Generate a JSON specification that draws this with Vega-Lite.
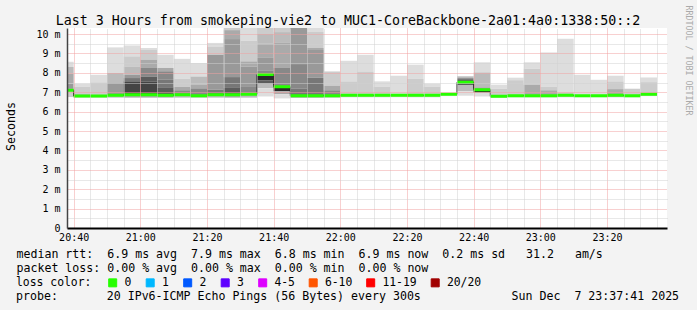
{
  "$schema": "https://vega.github.io/schema/vega-lite/v6.json",
  "width": 600,
  "height": 200,
  "autosize": "none",
  "padding": {"left": 67, "top": 28, "right": 30, "bottom": 82},
  "background": "#f3f3f3",
  "config": {"view": {"fill": "#ffffff", "stroke": null}, "font": "DejaVu Sans Mono"},
  "title": {
    "text": "probe:\u00a0\u00a0\u00a0\u00a0\u00a0\u00a0\u00a020 IPv6-ICMP Echo Pings (56 Bytes) every 300s\u00a0\u00a0\u00a0\u00a0\u00a0\u00a0\u00a0\u00a0\u00a0\u00a0\u00a0\u00a0\u00a0Sun Dec\u00a0\u00a07 23:37:41 2025",
    "orient": "bottom",
    "anchor": "start",
    "frame": "group",
    "dx": -51,
    "offset": 2,
    "baseline": "top",
    "font": "DejaVu Sans Mono",
    "fontSize": 11.6,
    "fontWeight": "normal",
    "color": "#000000"
  },
  "datasets": {
    "smoke": [
      {"s":"2025-12-07T20:35:00Z","e":"2025-12-07T20:40:00Z","lo":8.30,"hi":8.57,"k":1},{"s":"2025-12-07T20:35:00Z","e":"2025-12-07T20:40:00Z","lo":7.95,"hi":8.30,"k":3},{"s":"2025-12-07T20:35:00Z","e":"2025-12-07T20:40:00Z","lo":7.45,"hi":7.95,"k":4},{"s":"2025-12-07T20:35:00Z","e":"2025-12-07T20:40:00Z","lo":7.18,"hi":7.45,"k":5},{"s":"2025-12-07T20:35:00Z","e":"2025-12-07T20:40:00Z","lo":7.10,"hi":7.18,"k":7},{"s":"2025-12-07T20:35:00Z","e":"2025-12-07T20:40:00Z","lo":6.75,"hi":7.10,"k":2},
      {"s":"2025-12-07T20:40:00Z","e":"2025-12-07T20:45:00Z","lo":7.27,"hi":7.44,"k":1},{"s":"2025-12-07T20:40:00Z","e":"2025-12-07T20:45:00Z","lo":6.88,"hi":7.27,"k":2},{"s":"2025-12-07T20:40:00Z","e":"2025-12-07T20:45:00Z","lo":6.80,"hi":6.88,"k":6},{"s":"2025-12-07T20:40:00Z","e":"2025-12-07T20:45:00Z","lo":6.72,"hi":6.80,"k":2},
      {"s":"2025-12-07T20:45:00Z","e":"2025-12-07T20:50:00Z","lo":7.51,"hi":7.90,"k":1},{"s":"2025-12-07T20:45:00Z","e":"2025-12-07T20:50:00Z","lo":6.72,"hi":7.51,"k":2},
      {"s":"2025-12-07T20:50:00Z","e":"2025-12-07T20:55:00Z","lo":7.99,"hi":9.31,"k":1},{"s":"2025-12-07T20:50:00Z","e":"2025-12-07T20:55:00Z","lo":7.47,"hi":7.99,"k":3},{"s":"2025-12-07T20:50:00Z","e":"2025-12-07T20:55:00Z","lo":6.84,"hi":7.47,"k":5},{"s":"2025-12-07T20:50:00Z","e":"2025-12-07T20:55:00Z","lo":6.72,"hi":6.84,"k":3},
      {"s":"2025-12-07T20:55:00Z","e":"2025-12-07T21:00:00Z","lo":8.85,"hi":9.41,"k":1},{"s":"2025-12-07T20:55:00Z","e":"2025-12-07T21:00:00Z","lo":8.33,"hi":8.85,"k":2},{"s":"2025-12-07T20:55:00Z","e":"2025-12-07T21:00:00Z","lo":7.90,"hi":8.33,"k":3},{"s":"2025-12-07T20:55:00Z","e":"2025-12-07T21:00:00Z","lo":7.73,"hi":7.90,"k":5},{"s":"2025-12-07T20:55:00Z","e":"2025-12-07T21:00:00Z","lo":7.56,"hi":7.73,"k":7},{"s":"2025-12-07T20:55:00Z","e":"2025-12-07T21:00:00Z","lo":6.87,"hi":7.56,"k":9},{"s":"2025-12-07T20:55:00Z","e":"2025-12-07T21:00:00Z","lo":6.72,"hi":6.87,"k":4},
      {"s":"2025-12-07T21:00:00Z","e":"2025-12-07T21:05:00Z","lo":9.18,"hi":9.28,"k":1},{"s":"2025-12-07T21:00:00Z","e":"2025-12-07T21:05:00Z","lo":8.68,"hi":9.18,"k":2},{"s":"2025-12-07T21:00:00Z","e":"2025-12-07T21:05:00Z","lo":8.25,"hi":8.68,"k":4},{"s":"2025-12-07T21:00:00Z","e":"2025-12-07T21:05:00Z","lo":7.81,"hi":8.25,"k":6},{"s":"2025-12-07T21:00:00Z","e":"2025-12-07T21:05:00Z","lo":7.56,"hi":7.81,"k":8},{"s":"2025-12-07T21:00:00Z","e":"2025-12-07T21:05:00Z","lo":6.87,"hi":7.56,"k":9},{"s":"2025-12-07T21:00:00Z","e":"2025-12-07T21:05:00Z","lo":6.72,"hi":6.87,"k":4},
      {"s":"2025-12-07T21:05:00Z","e":"2025-12-07T21:10:00Z","lo":8.25,"hi":8.93,"k":1},{"s":"2025-12-07T21:05:00Z","e":"2025-12-07T21:10:00Z","lo":8.08,"hi":8.25,"k":4},{"s":"2025-12-07T21:05:00Z","e":"2025-12-07T21:10:00Z","lo":7.64,"hi":8.08,"k":6},{"s":"2025-12-07T21:05:00Z","e":"2025-12-07T21:10:00Z","lo":7.22,"hi":7.64,"k":7},{"s":"2025-12-07T21:05:00Z","e":"2025-12-07T21:10:00Z","lo":6.84,"hi":7.22,"k":8},{"s":"2025-12-07T21:05:00Z","e":"2025-12-07T21:10:00Z","lo":6.72,"hi":6.84,"k":4},
      {"s":"2025-12-07T21:10:00Z","e":"2025-12-07T21:15:00Z","lo":7.70,"hi":8.72,"k":1},{"s":"2025-12-07T21:10:00Z","e":"2025-12-07T21:15:00Z","lo":7.27,"hi":7.70,"k":2},{"s":"2025-12-07T21:10:00Z","e":"2025-12-07T21:15:00Z","lo":7.10,"hi":7.27,"k":4},{"s":"2025-12-07T21:10:00Z","e":"2025-12-07T21:15:00Z","lo":6.87,"hi":7.10,"k":6},{"s":"2025-12-07T21:10:00Z","e":"2025-12-07T21:15:00Z","lo":6.72,"hi":6.87,"k":3},
      {"s":"2025-12-07T21:15:00Z","e":"2025-12-07T21:20:00Z","lo":7.81,"hi":8.50,"k":1},{"s":"2025-12-07T21:15:00Z","e":"2025-12-07T21:20:00Z","lo":7.38,"hi":7.81,"k":3},{"s":"2025-12-07T21:15:00Z","e":"2025-12-07T21:20:00Z","lo":7.20,"hi":7.38,"k":4},{"s":"2025-12-07T21:15:00Z","e":"2025-12-07T21:20:00Z","lo":6.82,"hi":7.20,"k":6},{"s":"2025-12-07T21:15:00Z","e":"2025-12-07T21:20:00Z","lo":6.72,"hi":6.82,"k":3},
      {"s":"2025-12-07T21:20:00Z","e":"2025-12-07T21:25:00Z","lo":9.36,"hi":9.54,"k":1},{"s":"2025-12-07T21:20:00Z","e":"2025-12-07T21:25:00Z","lo":8.93,"hi":9.36,"k":2},{"s":"2025-12-07T21:20:00Z","e":"2025-12-07T21:25:00Z","lo":7.13,"hi":8.93,"k":5},{"s":"2025-12-07T21:20:00Z","e":"2025-12-07T21:25:00Z","lo":6.87,"hi":7.13,"k":7},{"s":"2025-12-07T21:20:00Z","e":"2025-12-07T21:25:00Z","lo":6.72,"hi":6.87,"k":3},
      {"s":"2025-12-07T21:25:00Z","e":"2025-12-07T21:30:00Z","lo":10.20,"hi":10.34,"k":2},{"s":"2025-12-07T21:25:00Z","e":"2025-12-07T21:30:00Z","lo":9.74,"hi":10.20,"k":4},{"s":"2025-12-07T21:25:00Z","e":"2025-12-07T21:30:00Z","lo":7.78,"hi":9.74,"k":5},{"s":"2025-12-07T21:25:00Z","e":"2025-12-07T21:30:00Z","lo":7.22,"hi":7.78,"k":7},{"s":"2025-12-07T21:25:00Z","e":"2025-12-07T21:30:00Z","lo":6.87,"hi":7.22,"k":8},{"s":"2025-12-07T21:25:00Z","e":"2025-12-07T21:30:00Z","lo":6.72,"hi":6.87,"k":4},
      {"s":"2025-12-07T21:30:00Z","e":"2025-12-07T21:35:00Z","lo":9.65,"hi":10.34,"k":1},{"s":"2025-12-07T21:30:00Z","e":"2025-12-07T21:35:00Z","lo":8.59,"hi":9.65,"k":2},{"s":"2025-12-07T21:30:00Z","e":"2025-12-07T21:35:00Z","lo":8.33,"hi":8.59,"k":4},{"s":"2025-12-07T21:30:00Z","e":"2025-12-07T21:35:00Z","lo":7.27,"hi":8.33,"k":5},{"s":"2025-12-07T21:30:00Z","e":"2025-12-07T21:35:00Z","lo":6.89,"hi":7.27,"k":6},{"s":"2025-12-07T21:30:00Z","e":"2025-12-07T21:35:00Z","lo":6.72,"hi":6.89,"k":3},
      {"s":"2025-12-07T21:35:00Z","e":"2025-12-07T21:40:00Z","lo":10.00,"hi":10.34,"k":2},{"s":"2025-12-07T21:35:00Z","e":"2025-12-07T21:40:00Z","lo":9.50,"hi":10.00,"k":3},{"s":"2025-12-07T21:35:00Z","e":"2025-12-07T21:40:00Z","lo":8.80,"hi":9.50,"k":4},{"s":"2025-12-07T21:35:00Z","e":"2025-12-07T21:40:00Z","lo":8.10,"hi":8.80,"k":5},{"s":"2025-12-07T21:35:00Z","e":"2025-12-07T21:40:00Z","lo":7.91,"hi":8.10,"k":6},{"s":"2025-12-07T21:35:00Z","e":"2025-12-07T21:40:00Z","lo":7.60,"hi":7.91,"k":10},{"s":"2025-12-07T21:35:00Z","e":"2025-12-07T21:40:00Z","lo":7.44,"hi":7.60,"k":8},{"s":"2025-12-07T21:35:00Z","e":"2025-12-07T21:40:00Z","lo":7.20,"hi":7.44,"k":3},{"s":"2025-12-07T21:35:00Z","e":"2025-12-07T21:40:00Z","lo":6.78,"hi":7.20,"k":1},
      {"s":"2025-12-07T21:40:00Z","e":"2025-12-07T21:45:00Z","lo":10.10,"hi":10.34,"k":2},{"s":"2025-12-07T21:40:00Z","e":"2025-12-07T21:45:00Z","lo":9.54,"hi":10.10,"k":3},{"s":"2025-12-07T21:40:00Z","e":"2025-12-07T21:45:00Z","lo":8.25,"hi":9.54,"k":4},{"s":"2025-12-07T21:40:00Z","e":"2025-12-07T21:45:00Z","lo":7.28,"hi":8.25,"k":6},{"s":"2025-12-07T21:40:00Z","e":"2025-12-07T21:45:00Z","lo":7.05,"hi":7.28,"k":10},{"s":"2025-12-07T21:40:00Z","e":"2025-12-07T21:45:00Z","lo":6.90,"hi":7.05,"k":4},{"s":"2025-12-07T21:40:00Z","e":"2025-12-07T21:45:00Z","lo":6.68,"hi":6.90,"k":1},
      {"s":"2025-12-07T21:45:00Z","e":"2025-12-07T21:50:00Z","lo":8.45,"hi":10.34,"k":5},{"s":"2025-12-07T21:45:00Z","e":"2025-12-07T21:50:00Z","lo":7.20,"hi":8.45,"k":6},{"s":"2025-12-07T21:45:00Z","e":"2025-12-07T21:50:00Z","lo":6.82,"hi":7.20,"k":7},{"s":"2025-12-07T21:45:00Z","e":"2025-12-07T21:50:00Z","lo":6.72,"hi":6.82,"k":5},
      {"s":"2025-12-07T21:50:00Z","e":"2025-12-07T21:55:00Z","lo":10.13,"hi":10.34,"k":1},{"s":"2025-12-07T21:50:00Z","e":"2025-12-07T21:55:00Z","lo":9.28,"hi":10.13,"k":2},{"s":"2025-12-07T21:50:00Z","e":"2025-12-07T21:55:00Z","lo":9.18,"hi":9.28,"k":4},{"s":"2025-12-07T21:50:00Z","e":"2025-12-07T21:55:00Z","lo":7.75,"hi":9.18,"k":5},{"s":"2025-12-07T21:50:00Z","e":"2025-12-07T21:55:00Z","lo":6.82,"hi":7.75,"k":7},{"s":"2025-12-07T21:50:00Z","e":"2025-12-07T21:55:00Z","lo":6.72,"hi":6.82,"k":4},
      {"s":"2025-12-07T21:55:00Z","e":"2025-12-07T22:00:00Z","lo":7.34,"hi":8.07,"k":2},{"s":"2025-12-07T21:55:00Z","e":"2025-12-07T22:00:00Z","lo":7.10,"hi":7.34,"k":4},{"s":"2025-12-07T21:55:00Z","e":"2025-12-07T22:00:00Z","lo":6.82,"hi":7.10,"k":6},{"s":"2025-12-07T21:55:00Z","e":"2025-12-07T22:00:00Z","lo":6.72,"hi":6.82,"k":3},
      {"s":"2025-12-07T22:00:00Z","e":"2025-12-07T22:05:00Z","lo":7.56,"hi":8.62,"k":1},{"s":"2025-12-07T22:00:00Z","e":"2025-12-07T22:05:00Z","lo":6.74,"hi":7.56,"k":2},
      {"s":"2025-12-07T22:05:00Z","e":"2025-12-07T22:10:00Z","lo":8.07,"hi":8.93,"k":1},{"s":"2025-12-07T22:05:00Z","e":"2025-12-07T22:10:00Z","lo":6.74,"hi":8.07,"k":2},
      {"s":"2025-12-07T22:10:00Z","e":"2025-12-07T22:15:00Z","lo":7.27,"hi":7.56,"k":1},{"s":"2025-12-07T22:10:00Z","e":"2025-12-07T22:15:00Z","lo":6.74,"hi":7.27,"k":2},
      {"s":"2025-12-07T22:15:00Z","e":"2025-12-07T22:20:00Z","lo":6.74,"hi":7.85,"k":1},
      {"s":"2025-12-07T22:20:00Z","e":"2025-12-07T22:25:00Z","lo":7.70,"hi":8.42,"k":1},{"s":"2025-12-07T22:20:00Z","e":"2025-12-07T22:25:00Z","lo":6.74,"hi":7.70,"k":2},
      {"s":"2025-12-07T22:25:00Z","e":"2025-12-07T22:30:00Z","lo":7.27,"hi":7.44,"k":1},{"s":"2025-12-07T22:25:00Z","e":"2025-12-07T22:30:00Z","lo":6.74,"hi":7.27,"k":2},
      {"s":"2025-12-07T22:30:00Z","e":"2025-12-07T22:35:00Z","lo":6.80,"hi":6.97,"k":1},
      {"s":"2025-12-07T22:35:00Z","e":"2025-12-07T22:40:00Z","lo":7.72,"hi":7.82,"k":3},{"s":"2025-12-07T22:35:00Z","e":"2025-12-07T22:40:00Z","lo":7.62,"hi":7.72,"k":7},{"s":"2025-12-07T22:35:00Z","e":"2025-12-07T22:40:00Z","lo":7.51,"hi":7.62,"k":9},{"s":"2025-12-07T22:35:00Z","e":"2025-12-07T22:40:00Z","lo":7.35,"hi":7.51,"k":8},{"s":"2025-12-07T22:35:00Z","e":"2025-12-07T22:40:00Z","lo":7.05,"hi":7.35,"k":3},{"s":"2025-12-07T22:35:00Z","e":"2025-12-07T22:40:00Z","lo":6.82,"hi":7.05,"k":1},
      {"s":"2025-12-07T22:40:00Z","e":"2025-12-07T22:45:00Z","lo":8.02,"hi":8.54,"k":1},{"s":"2025-12-07T22:40:00Z","e":"2025-12-07T22:45:00Z","lo":7.25,"hi":8.02,"k":3},{"s":"2025-12-07T22:40:00Z","e":"2025-12-07T22:45:00Z","lo":7.13,"hi":7.25,"k":5},{"s":"2025-12-07T22:40:00Z","e":"2025-12-07T22:45:00Z","lo":6.98,"hi":7.13,"k":10},{"s":"2025-12-07T22:40:00Z","e":"2025-12-07T22:45:00Z","lo":6.78,"hi":6.98,"k":1},
      {"s":"2025-12-07T22:45:00Z","e":"2025-12-07T22:50:00Z","lo":7.18,"hi":7.39,"k":1},{"s":"2025-12-07T22:45:00Z","e":"2025-12-07T22:50:00Z","lo":6.72,"hi":7.18,"k":2},
      {"s":"2025-12-07T22:50:00Z","e":"2025-12-07T22:55:00Z","lo":7.62,"hi":7.75,"k":1},{"s":"2025-12-07T22:50:00Z","e":"2025-12-07T22:55:00Z","lo":6.74,"hi":7.62,"k":2},
      {"s":"2025-12-07T22:55:00Z","e":"2025-12-07T23:00:00Z","lo":8.21,"hi":8.54,"k":1},{"s":"2025-12-07T22:55:00Z","e":"2025-12-07T23:00:00Z","lo":7.39,"hi":8.21,"k":2},{"s":"2025-12-07T22:55:00Z","e":"2025-12-07T23:00:00Z","lo":6.82,"hi":7.39,"k":4},{"s":"2025-12-07T22:55:00Z","e":"2025-12-07T23:00:00Z","lo":6.74,"hi":6.82,"k":3},
      {"s":"2025-12-07T23:00:00Z","e":"2025-12-07T23:05:00Z","lo":7.27,"hi":9.05,"k":1},{"s":"2025-12-07T23:00:00Z","e":"2025-12-07T23:05:00Z","lo":7.10,"hi":7.27,"k":2},{"s":"2025-12-07T23:00:00Z","e":"2025-12-07T23:05:00Z","lo":6.82,"hi":7.10,"k":4},{"s":"2025-12-07T23:00:00Z","e":"2025-12-07T23:05:00Z","lo":6.74,"hi":6.82,"k":3},
      {"s":"2025-12-07T23:05:00Z","e":"2025-12-07T23:10:00Z","lo":7.00,"hi":9.76,"k":1},{"s":"2025-12-07T23:05:00Z","e":"2025-12-07T23:10:00Z","lo":6.74,"hi":7.00,"k":2},
      {"s":"2025-12-07T23:10:00Z","e":"2025-12-07T23:15:00Z","lo":6.74,"hi":7.90,"k":1},
      {"s":"2025-12-07T23:15:00Z","e":"2025-12-07T23:20:00Z","lo":6.74,"hi":7.64,"k":1},
      {"s":"2025-12-07T23:20:00Z","e":"2025-12-07T23:25:00Z","lo":7.56,"hi":7.85,"k":1},{"s":"2025-12-07T23:20:00Z","e":"2025-12-07T23:25:00Z","lo":7.16,"hi":7.56,"k":2},{"s":"2025-12-07T23:20:00Z","e":"2025-12-07T23:25:00Z","lo":6.84,"hi":7.16,"k":4},{"s":"2025-12-07T23:20:00Z","e":"2025-12-07T23:25:00Z","lo":6.74,"hi":6.84,"k":3},
      {"s":"2025-12-07T23:25:00Z","e":"2025-12-07T23:30:00Z","lo":6.74,"hi":7.18,"k":2},
      {"s":"2025-12-07T23:30:00Z","e":"2025-12-07T23:35:00Z","lo":7.52,"hi":7.76,"k":1},{"s":"2025-12-07T23:30:00Z","e":"2025-12-07T23:35:00Z","lo":6.80,"hi":7.52,"k":2}
    ],
    "med": [
      {"s":"2025-12-07T20:35:00Z","e":"2025-12-07T20:40:00Z","m":7.10,"loss":"0"},{"s":"2025-12-07T20:40:00Z","e":"2025-12-07T20:45:00Z","m":6.80,"loss":"0"},{"s":"2025-12-07T20:45:00Z","e":"2025-12-07T20:50:00Z","m":6.80,"loss":"0"},{"s":"2025-12-07T20:50:00Z","e":"2025-12-07T20:55:00Z","m":6.84,"loss":"0"},
      {"s":"2025-12-07T20:55:00Z","e":"2025-12-07T21:00:00Z","m":6.87,"loss":"0"},{"s":"2025-12-07T21:00:00Z","e":"2025-12-07T21:05:00Z","m":6.87,"loss":"0"},{"s":"2025-12-07T21:05:00Z","e":"2025-12-07T21:10:00Z","m":6.84,"loss":"0"},{"s":"2025-12-07T21:10:00Z","e":"2025-12-07T21:15:00Z","m":6.87,"loss":"0"},
      {"s":"2025-12-07T21:15:00Z","e":"2025-12-07T21:20:00Z","m":6.82,"loss":"0"},{"s":"2025-12-07T21:20:00Z","e":"2025-12-07T21:25:00Z","m":6.87,"loss":"0"},{"s":"2025-12-07T21:25:00Z","e":"2025-12-07T21:30:00Z","m":6.87,"loss":"0"},{"s":"2025-12-07T21:30:00Z","e":"2025-12-07T21:35:00Z","m":6.89,"loss":"0"},
      {"s":"2025-12-07T21:35:00Z","e":"2025-12-07T21:40:00Z","m":7.91,"loss":"0"},{"s":"2025-12-07T21:40:00Z","e":"2025-12-07T21:45:00Z","m":7.28,"loss":"0"},{"s":"2025-12-07T21:45:00Z","e":"2025-12-07T21:50:00Z","m":6.82,"loss":"0"},{"s":"2025-12-07T21:50:00Z","e":"2025-12-07T21:55:00Z","m":6.82,"loss":"0"},
      {"s":"2025-12-07T21:55:00Z","e":"2025-12-07T22:00:00Z","m":6.82,"loss":"0"},{"s":"2025-12-07T22:00:00Z","e":"2025-12-07T22:05:00Z","m":6.84,"loss":"0"},{"s":"2025-12-07T22:05:00Z","e":"2025-12-07T22:10:00Z","m":6.84,"loss":"0"},{"s":"2025-12-07T22:10:00Z","e":"2025-12-07T22:15:00Z","m":6.84,"loss":"0"},
      {"s":"2025-12-07T22:15:00Z","e":"2025-12-07T22:20:00Z","m":6.84,"loss":"0"},{"s":"2025-12-07T22:20:00Z","e":"2025-12-07T22:25:00Z","m":6.84,"loss":"0"},{"s":"2025-12-07T22:25:00Z","e":"2025-12-07T22:30:00Z","m":6.84,"loss":"0"},{"s":"2025-12-07T22:30:00Z","e":"2025-12-07T22:35:00Z","m":6.89,"loss":"0"},
      {"s":"2025-12-07T22:35:00Z","e":"2025-12-07T22:40:00Z","m":7.51,"loss":"0"},{"s":"2025-12-07T22:40:00Z","e":"2025-12-07T22:45:00Z","m":7.13,"loss":"0"},{"s":"2025-12-07T22:45:00Z","e":"2025-12-07T22:50:00Z","m":6.79,"loss":"0"},{"s":"2025-12-07T22:50:00Z","e":"2025-12-07T22:55:00Z","m":6.82,"loss":"0"},
      {"s":"2025-12-07T22:55:00Z","e":"2025-12-07T23:00:00Z","m":6.82,"loss":"0"},{"s":"2025-12-07T23:00:00Z","e":"2025-12-07T23:05:00Z","m":6.82,"loss":"0"},{"s":"2025-12-07T23:05:00Z","e":"2025-12-07T23:10:00Z","m":6.84,"loss":"0"},{"s":"2025-12-07T23:10:00Z","e":"2025-12-07T23:15:00Z","m":6.82,"loss":"0"},
      {"s":"2025-12-07T23:15:00Z","e":"2025-12-07T23:20:00Z","m":6.82,"loss":"0"},{"s":"2025-12-07T23:20:00Z","e":"2025-12-07T23:25:00Z","m":6.84,"loss":"0"},{"s":"2025-12-07T23:25:00Z","e":"2025-12-07T23:30:00Z","m":6.82,"loss":"0"},{"s":"2025-12-07T23:30:00Z","e":"2025-12-07T23:35:00Z","m":6.89,"loss":"0"}
    ]
  },
  "layer": [
    {
      "data": {"name": "smoke"},
      "mark": {"type": "rect", "clip": true},
      "encoding": {
        "x": {
          "field": "s", "type": "temporal",
          "scale": {"type": "utc", "domain": [{"year": 2025, "month": 12, "date": 7, "hours": 20, "minutes": 38, "utc": true}, {"year": 2025, "month": 12, "date": 7, "hours": 23, "minutes": 38, "utc": true}]},
          "axis": {"orient": "top",
            "values": [
              {"year": 2025, "month": 12, "date": 7, "hours": 20, "minutes": 45, "utc": true},{"year": 2025, "month": 12, "date": 7, "hours": 20, "minutes": 50, "utc": true},{"year": 2025, "month": 12, "date": 7, "hours": 20, "minutes": 55, "utc": true},
              {"year": 2025, "month": 12, "date": 7, "hours": 21, "minutes": 5, "utc": true},{"year": 2025, "month": 12, "date": 7, "hours": 21, "minutes": 10, "utc": true},{"year": 2025, "month": 12, "date": 7, "hours": 21, "minutes": 15, "utc": true},
              {"year": 2025, "month": 12, "date": 7, "hours": 21, "minutes": 25, "utc": true},{"year": 2025, "month": 12, "date": 7, "hours": 21, "minutes": 30, "utc": true},{"year": 2025, "month": 12, "date": 7, "hours": 21, "minutes": 35, "utc": true},
              {"year": 2025, "month": 12, "date": 7, "hours": 21, "minutes": 45, "utc": true},{"year": 2025, "month": 12, "date": 7, "hours": 21, "minutes": 50, "utc": true},{"year": 2025, "month": 12, "date": 7, "hours": 21, "minutes": 55, "utc": true},
              {"year": 2025, "month": 12, "date": 7, "hours": 22, "minutes": 5, "utc": true},{"year": 2025, "month": 12, "date": 7, "hours": 22, "minutes": 10, "utc": true},{"year": 2025, "month": 12, "date": 7, "hours": 22, "minutes": 15, "utc": true},
              {"year": 2025, "month": 12, "date": 7, "hours": 22, "minutes": 25, "utc": true},{"year": 2025, "month": 12, "date": 7, "hours": 22, "minutes": 30, "utc": true},{"year": 2025, "month": 12, "date": 7, "hours": 22, "minutes": 35, "utc": true},
              {"year": 2025, "month": 12, "date": 7, "hours": 22, "minutes": 45, "utc": true},{"year": 2025, "month": 12, "date": 7, "hours": 22, "minutes": 50, "utc": true},{"year": 2025, "month": 12, "date": 7, "hours": 22, "minutes": 55, "utc": true},
              {"year": 2025, "month": 12, "date": 7, "hours": 23, "minutes": 5, "utc": true},{"year": 2025, "month": 12, "date": 7, "hours": 23, "minutes": 10, "utc": true},{"year": 2025, "month": 12, "date": 7, "hours": 23, "minutes": 15, "utc": true},
              {"year": 2025, "month": 12, "date": 7, "hours": 23, "minutes": 25, "utc": true},{"year": 2025, "month": 12, "date": 7, "hours": 23, "minutes": 30, "utc": true},{"year": 2025, "month": 12, "date": 7, "hours": 23, "minutes": 35, "utc": true}
            ],
            "labels": false, "ticks": false, "domain": false, "grid": true, "gridColor": "#d0d0d0", "gridDash": [1, 1], "gridWidth": 1, "zindex": 1,
            "title": "Last 3 Hours from smokeping-vie2 to MUC1-CoreBackbone-2a01:4a0:1338:50::2",
            "titleFont": "DejaVu Sans Mono", "titleFontSize": 13.3, "titleFontWeight": "normal", "titleColor": "#000000",
            "titleX": 280.5, "titleY": -4, "titleAlign": "center", "titleBaseline": "alphabetic"}
        },
        "x2": {"field": "e"},
        "y": {
          "field": "lo", "type": "quantitative",
          "scale": {"domain": [0, 10.31], "nice": false, "zero": true},
          "axis": {"orient": "right", "values": [0.5, 1.5, 2.5, 3.5, 4.5, 5.5, 6.5, 7.5, 8.5, 9.5], "labels": false, "ticks": false, "domain": false, "grid": true, "gridColor": "#d0d0d0", "gridDash": [1, 1], "gridWidth": 1, "zindex": 1,
                   "title": "RRDTOOL / TOBI OETIKER", "titleFont": "DejaVu Sans Mono", "titleFontSize": 8.3, "titleFontWeight": "normal", "titleColor": "#aaaaaa", "titleAngle": 90, "titleX": 20.5, "titleY": 32, "titleAlign": "center", "titleBaseline": "middle"}
        },
        "y2": {"field": "hi"},
        "color": {
          "field": "k", "type": "ordinal",
          "scale": {"domain": [1, 2, 3, 4, 5, 6, 7, 8, 9, 10], "range": ["#dddddd", "#cccccc", "#bbbbbb", "#aaaaaa", "#999999", "#888888", "#777777", "#5c5c5c", "#444444", "#2a2a2a"]},
          "legend": null
        }
      }
    },
    {
      "data": {"name": "med"},
      "mark": {"type": "line", "interpolate": "step-after", "stroke": "#202020", "strokeWidth": 1, "clip": true},
      "encoding": {
        "x": {
          "field": "s", "type": "temporal",
          "scale": {"type": "utc", "domain": [{"year": 2025, "month": 12, "date": 7, "hours": 20, "minutes": 38, "utc": true}, {"year": 2025, "month": 12, "date": 7, "hours": 23, "minutes": 38, "utc": true}]},
          "axis": {
            "orient": "bottom",
            "values": [
              {"year": 2025, "month": 12, "date": 7, "hours": 20, "minutes": 40, "utc": true},{"year": 2025, "month": 12, "date": 7, "hours": 21, "minutes": 0, "utc": true},{"year": 2025, "month": 12, "date": 7, "hours": 21, "minutes": 20, "utc": true},{"year": 2025, "month": 12, "date": 7, "hours": 21, "minutes": 40, "utc": true},
              {"year": 2025, "month": 12, "date": 7, "hours": 22, "minutes": 0, "utc": true},{"year": 2025, "month": 12, "date": 7, "hours": 22, "minutes": 20, "utc": true},{"year": 2025, "month": 12, "date": 7, "hours": 22, "minutes": 40, "utc": true},{"year": 2025, "month": 12, "date": 7, "hours": 23, "minutes": 0, "utc": true},
              {"year": 2025, "month": 12, "date": 7, "hours": 23, "minutes": 20, "utc": true}
            ],
            "labelExpr": "utcFormat(datum.value, '%H:%M')",
            "labelFont": "DejaVu Sans Mono", "labelFontSize": 10, "labelColor": "#000000", "labelPadding": 4, "labelFlush": false, "labelOverlap": false,
            "ticks": false, "domainColor": "#000000", "domainWidth": 2,
            "grid": true, "gridColor": "#f0a0a0", "gridDash": [1, 1], "gridWidth": 1, "zindex": 1,
            "title": [
              "median rtt:\u00a0\u00a06.9 ms avg\u00a0\u00a07.9 ms max\u00a0\u00a06.8 ms min\u00a0\u00a06.9 ms now\u00a0\u00a00.2 ms sd\u00a0\u00a0\u00a031.2\u00a0\u00a0\u00a0am/s",
              "packet loss: 0.00 % avg\u00a0\u00a00.00 % max\u00a0\u00a00.00 % min\u00a0\u00a00.00 % now"
            ],
            "titleFont": "DejaVu Sans Mono", "titleFontSize": 11.6, "titleFontWeight": "normal", "titleColor": "#000000",
            "titleAlign": "left", "titleAnchor": "start", "titleX": -51, "titleY": 20, "titleBaseline": "top", "titleLineHeight": 14
          }
        },
        "y": {
          "field": "m", "type": "quantitative",
          "scale": {"domain": [0, 10.31], "nice": false, "zero": true},
          "axis": {
            "orient": "left", "values": [0, 1, 2, 3, 4, 5, 6, 7, 8, 9, 10],
            "labelExpr": "datum.value == 0 ? '0' : datum.value + ' m'",
            "labelFont": "DejaVu Sans Mono", "labelFontSize": 10, "labelColor": "#000000", "labelPadding": 7,
            "ticks": false, "domainColor": "#444444", "domainWidth": 1.5,
            "grid": true, "gridColor": "#f0a0a0", "gridDash": [1, 1], "gridWidth": 1, "zindex": 1,
            "title": "Seconds", "titleFont": "DejaVu Sans Mono", "titleFontSize": 11.6, "titleFontWeight": "normal", "titleColor": "#000000",
            "titleX": -56, "titleY": 98, "titleAlign": "center", "titleBaseline": "middle", "titleAngle": 270
          }
        }
      }
    },
    {
      "data": {"name": "med"},
      "mark": {"type": "rect", "strokeWidth": 3, "strokeJoin": "bevel", "clip": true},
      "encoding": {
        "x": {"field": "s", "type": "temporal", "axis": null},
        "x2": {"field": "e"},
        "y": {"field": "m", "type": "quantitative", "axis": null},
        "y2": {"field": "m"},
        "fill": {
          "field": "loss", "type": "nominal",
          "scale": {"domain": ["0", "1", "2", "3", "4-5", "6-10", "11-19", "20/20"], "range": ["#26ff00", "#00b8ff", "#0059ff", "#5e00ff", "#dd00ff", "#ff5500", "#ff0000", "#a10000"]},
          "legend": {
            "title": "loss color:", "orient": "none", "legendX": -51, "legendY": 249,
            "direction": "horizontal", "columns": 8, "symbolType": "square", "symbolSize": 64, "symbolStrokeColor": "#000000", "symbolStrokeWidth": 1,
            "titleOrient": "left", "titleFont": "DejaVu Sans Mono", "titleFontSize": 11.4, "titleFontWeight": "normal", "titleColor": "#000000", "titlePadding": 15,
            "labelFont": "DejaVu Sans Mono", "labelFontSize": 11.4, "labelColor": "#000000", "labelOffset": 6, "columnPadding": 11.5, "padding": 0
          }
        },
        "stroke": {
          "field": "loss", "type": "nominal",
          "scale": {"domain": ["0", "1", "2", "3", "4-5", "6-10", "11-19", "20/20"], "range": ["#26ff00", "#00b8ff", "#0059ff", "#5e00ff", "#dd00ff", "#ff5500", "#ff0000", "#a10000"]},
          "legend": null
        }
      }
    }
  ],
  "resolve": {"axis": {"x": "independent", "y": "independent"}}
}
